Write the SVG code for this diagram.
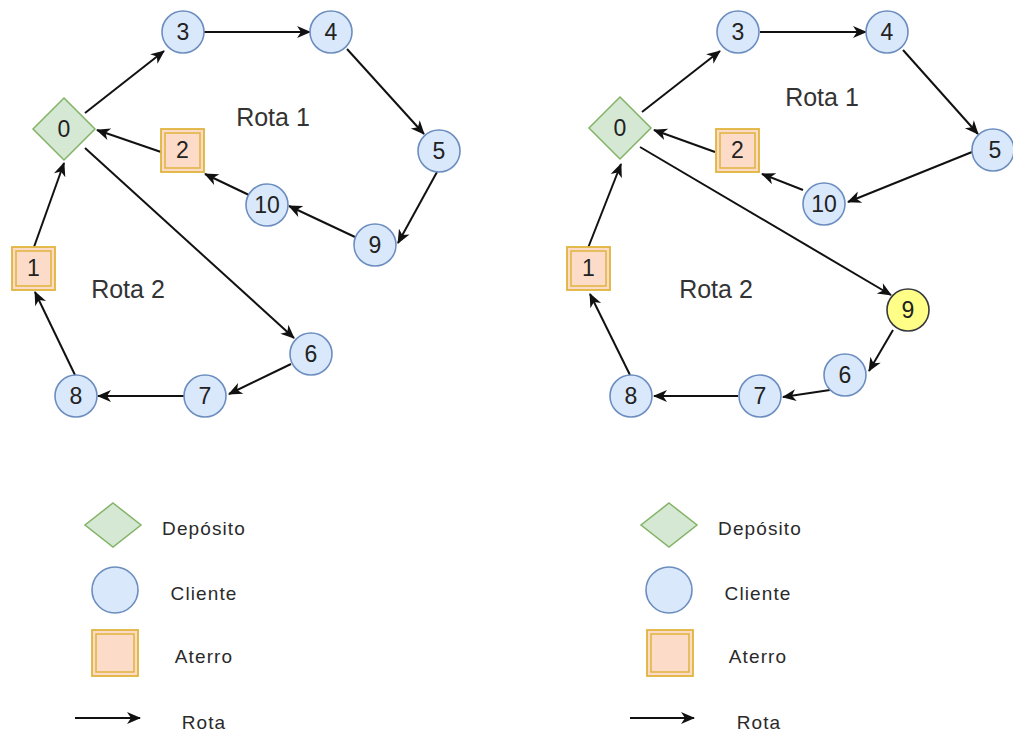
<svg xmlns="http://www.w3.org/2000/svg" width="1013" height="731" viewBox="0 0 1013 731">
  <style>
    .client { fill: #dae8fc; stroke: #6c8ebf; stroke-width: 1.6; }
    .client-new { fill: #ffff88; stroke: #36393d; stroke-width: 1.6; }
    .depot { fill: #d5e8d4; stroke: #82b366; stroke-width: 1.5; }
    .landfill { fill: #fcdcc8; stroke: #e0b43c; stroke-width: 1.8; }
    .landfill-inner { fill: none; stroke: #e0b43c; stroke-width: 1.5; }
    .lbl { font-family: "Liberation Sans", Arial, sans-serif; font-size: 23px; fill: #222; text-anchor: middle; }
    .route-lbl { font-family: "Liberation Sans", Arial, sans-serif; font-size: 25px; fill: #333; text-anchor: middle; }
    .legend-lbl { font-family: "Liberation Sans", Arial, sans-serif; font-size: 19px; letter-spacing: 1.1px; fill: #2a2a2a; text-anchor: middle; }
    .edge { fill: none; stroke: #111; stroke-width: 2; marker-end: url(#arrow); }
  </style>
  <defs>
    <marker id="arrow" markerUnits="userSpaceOnUse" markerWidth="16" markerHeight="14" refX="14" refY="7" orient="auto">
      <path d="M1,1 L15,7 L1,13 L5,7 Z" fill="#111"/>
    </marker>
  </defs>

  <rect width="1013" height="731" fill="#ffffff"/>

  <!-- Left scenario: routes -->
  <g id="connectors-left">
    <path class="edge" d="M85,113 L164,51"/>
    <path class="edge" d="M204,32 L310,32"/>
    <path class="edge" d="M347,49 L424,134"/>
    <path class="edge" d="M437,172 L398,243"/>
    <path class="edge" d="M355,237 L289,206"/>
    <path class="edge" d="M249,195 L205,174"/>
    <path class="edge" d="M161,152 L97,130"/>
    <path class="edge" d="M85,148 L294,338"/>
    <path class="edge" d="M291,364 L229,394"/>
    <path class="edge" d="M184,396 L98,396"/>
    <path class="edge" d="M75,375 L35,292"/>
    <path class="edge" d="M34,247 L64,163"/>
  </g>

  <!-- Right scenario: routes -->
  <g id="connectors-right">
    <path class="edge" d="M642,112 L720,51"/>
    <path class="edge" d="M760,32 L866,32"/>
    <path class="edge" d="M903,50 L978,134"/>
    <path class="edge" d="M972,152 L848,202"/>
    <path class="edge" d="M803,190 L762,174"/>
    <path class="edge" d="M715,152 L654,130"/>
    <path class="edge" d="M640,147 L891,295"/>
    <path class="edge" d="M893,330 L869,371"/>
    <path class="edge" d="M830,390 L783,397"/>
    <path class="edge" d="M738,396 L654,396"/>
    <path class="edge" d="M630,375 L590,294"/>
    <path class="edge" d="M588,248 L621,164"/>
  </g>

  <!-- Left scenario nodes -->
  <g id="L-node-0"><path class="depot" d="M64,98 L95,129 L64,160 L33,129 Z"/><text class="lbl" x="64" y="137">0</text></g>
  <g id="L-node-3"><circle class="client" cx="183" cy="32" r="21"/><text class="lbl" x="183" y="40">3</text></g>
  <g id="L-node-4"><circle class="client" cx="331" cy="32" r="21"/><text class="lbl" x="331" y="40">4</text></g>
  <g id="L-node-5"><circle class="client" cx="439" cy="151" r="21"/><text class="lbl" x="439" y="159">5</text></g>
  <g id="L-node-2"><rect class="landfill" x="161" y="129" width="43" height="43"/><rect class="landfill-inner" x="165" y="133" width="35" height="35"/><text class="lbl" x="182.5" y="158">2</text></g>
  <g id="L-node-10"><circle class="client" cx="267" cy="205" r="21"/><text class="lbl" x="267" y="213">10</text></g>
  <g id="L-node-9"><circle class="client" cx="375" cy="245" r="21"/><text class="lbl" x="375" y="253">9</text></g>
  <g id="L-node-1"><rect class="landfill" x="12" y="247" width="43" height="43"/><rect class="landfill-inner" x="16" y="251" width="35" height="35"/><text class="lbl" x="33.5" y="276">1</text></g>
  <g id="L-node-6"><circle class="client" cx="311" cy="354" r="21"/><text class="lbl" x="311" y="362">6</text></g>
  <g id="L-node-7"><circle class="client" cx="205" cy="396" r="21"/><text class="lbl" x="205" y="404">7</text></g>
  <g id="L-node-8"><circle class="client" cx="76" cy="396" r="21"/><text class="lbl" x="76" y="404">8</text></g>
  <text class="route-lbl" x="273" y="126">Rota 1</text>
  <text class="route-lbl" x="128" y="298">Rota 2</text>

  <!-- Right scenario nodes -->
  <g id="R-node-0"><path class="depot" d="M620,97 L651,128 L620,159 L589,128 Z"/><text class="lbl" x="620" y="136">0</text></g>
  <g id="R-node-3"><circle class="client" cx="738" cy="32" r="21"/><text class="lbl" x="738" y="40">3</text></g>
  <g id="R-node-4"><circle class="client" cx="887" cy="32" r="21"/><text class="lbl" x="887" y="40">4</text></g>
  <g id="R-node-5"><circle class="client" cx="993" cy="150" r="21"/><text class="lbl" x="995" y="158">5</text></g>
  <g id="R-node-2"><rect class="landfill" x="716" y="129" width="43" height="43"/><rect class="landfill-inner" x="720" y="133" width="35" height="35"/><text class="lbl" x="737.5" y="158">2</text></g>
  <g id="R-node-10"><circle class="client" cx="824" cy="204" r="21"/><text class="lbl" x="824" y="212">10</text></g>
  <g id="R-node-1"><rect class="landfill" x="567" y="247" width="43" height="43"/><rect class="landfill-inner" x="571" y="251" width="35" height="35"/><text class="lbl" x="588.5" y="276">1</text></g>
  <g id="R-node-9"><circle class="client-new" cx="908" cy="310" r="21"/><text class="lbl" x="908" y="318">9</text></g>
  <g id="R-node-6"><circle class="client" cx="845" cy="375" r="21"/><text class="lbl" x="845" y="383">6</text></g>
  <g id="R-node-7"><circle class="client" cx="760" cy="396" r="21"/><text class="lbl" x="760" y="404">7</text></g>
  <g id="R-node-8"><circle class="client" cx="631" cy="396" r="21"/><text class="lbl" x="631" y="404">8</text></g>
  <text class="route-lbl" x="822" y="106">Rota 1</text>
  <text class="route-lbl" x="716" y="298">Rota 2</text>

  <!-- Left legend -->
  <g id="L-legend">
    <path class="depot" d="M113,503 L141,525 L113,547 L85,525 Z"/>
    <text class="legend-lbl" x="204" y="535">Depósito</text>
    <circle class="client" cx="115" cy="590" r="23"/>
    <text class="legend-lbl" x="204" y="600">Cliente</text>
    <rect class="landfill" x="92" y="630" width="46" height="46"/>
    <rect class="landfill-inner" x="96" y="634" width="38" height="38"/>
    <text class="legend-lbl" x="204" y="663">Aterro</text>
    <path class="edge" d="M75,718 L140,718"/>
    <text class="legend-lbl" x="204" y="729">Rota</text>
  </g>

  <!-- Right legend -->
  <g id="R-legend">
    <path class="depot" d="M669,503 L697,525 L669,547 L641,525 Z"/>
    <text class="legend-lbl" x="760" y="535">Depósito</text>
    <circle class="client" cx="669" cy="590" r="23"/>
    <text class="legend-lbl" x="758" y="600">Cliente</text>
    <rect class="landfill" x="647" y="630" width="46" height="46"/>
    <rect class="landfill-inner" x="651" y="634" width="38" height="38"/>
    <text class="legend-lbl" x="758" y="663">Aterro</text>
    <path class="edge" d="M630,718 L694,718"/>
    <text class="legend-lbl" x="759" y="729">Rota</text>
  </g>
</svg>
